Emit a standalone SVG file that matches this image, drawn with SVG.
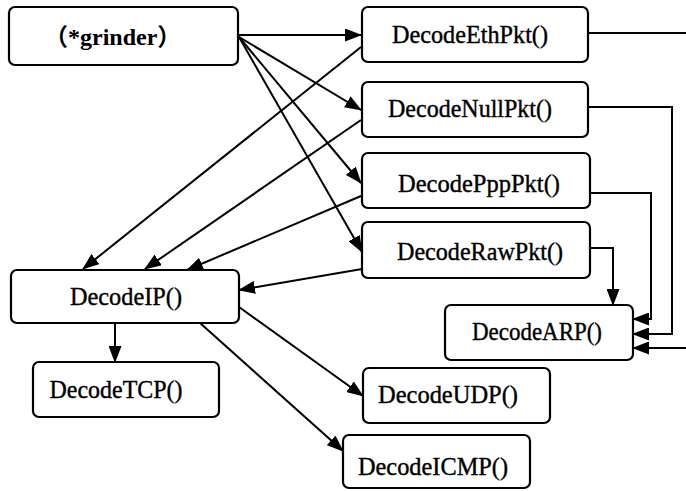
<svg xmlns="http://www.w3.org/2000/svg" width="686" height="491" viewBox="0 0 686 491">
  <style>
    .box { fill: #fff; stroke: #000; stroke-width: 2.2; }
    .lbl { font-family: "Liberation Serif", "Times New Roman", serif; font-size: 26px; fill: #000; stroke: #000; stroke-width: 0.4; text-anchor: middle; }
    .lbl-b { font-family: "Liberation Serif", "Noto Sans CJK SC", serif; font-size: 24px; font-weight: bold; fill: #000; }
    .wire { fill: none; stroke: #000; stroke-width: 2; }
    .arr { marker-end: url(#ah); }
  </style>
  <defs>
    <marker id="ah" viewBox="0 0 17 13" refX="16" refY="6.5" markerWidth="17" markerHeight="13" markerUnits="userSpaceOnUse" orient="auto">
      <path d="M0,0 L17,6.5 L0,13 z" fill="#000"/>
    </marker>
  </defs>
  <rect width="686" height="491" fill="#fff"/>

  <!-- call edges -->
  <g id="connectors">
    <path class="wire arr" d="M238,35 L361,35"/>
    <path class="wire arr" d="M239,37 L361,110"/>
    <path class="wire arr" d="M239,37 L361,183"/>
    <path class="wire arr" d="M239,37 L362,252"/>
    <path class="wire arr" d="M361,47 L83,269"/>
    <path class="wire arr" d="M361,120 L145,269"/>
    <path class="wire arr" d="M361,196 L187,270"/>
    <path class="wire arr" d="M362,269 L239,290"/>
    <path class="wire arr" d="M115,323 L115,362"/>
    <path class="wire arr" d="M239,307 L363,396"/>
    <path class="wire arr" d="M200,323 L343,451"/>
    <path class="wire" d="M588,33 L686,33"/>
    <path class="wire arr" d="M686,348 L633,348"/>
    <path class="wire arr" d="M588,107 L672,107 L672,334 L633,334"/>
    <path class="wire arr" d="M590,193 L651,193 L651,319 L633,319"/>
    <path class="wire arr" d="M590,248 L613,248 L613,305"/>
  </g>

  <g id="grinder">
    <rect class="box" x="9" y="7" width="229" height="58" rx="6"/>
    <text class="lbl-b" x="44" y="45">（*grinder）</text>
  </g>
  <g id="DecodeEthPkt">
    <rect class="box" x="362" y="7" width="226" height="55" rx="6"/>
    <text class="lbl" x="470" y="43" textLength="156" lengthAdjust="spacingAndGlyphs">DecodeEthPkt()</text>
  </g>
  <g id="DecodeNullPkt">
    <rect class="box" x="362" y="82" width="226" height="55" rx="6"/>
    <text class="lbl" x="470" y="117" textLength="164" lengthAdjust="spacingAndGlyphs">DecodeNullPkt()</text>
  </g>
  <g id="DecodePppPkt">
    <rect class="box" x="362" y="153" width="228" height="55" rx="6"/>
    <text class="lbl" x="479" y="192" textLength="162" lengthAdjust="spacingAndGlyphs">DecodePppPkt()</text>
  </g>
  <g id="DecodeRawPkt">
    <rect class="box" x="362" y="222" width="228" height="56" rx="6"/>
    <text class="lbl" x="480" y="260" textLength="166" lengthAdjust="spacingAndGlyphs">DecodeRawPkt()</text>
  </g>
  <g id="DecodeIP">
    <rect class="box" x="11" y="270" width="228" height="53" rx="6"/>
    <text class="lbl" x="126" y="305" textLength="112" lengthAdjust="spacingAndGlyphs">DecodeIP()</text>
  </g>
  <g id="DecodeTCP">
    <rect class="box" x="33" y="362" width="186" height="55" rx="6"/>
    <text class="lbl" x="116" y="398" textLength="133" lengthAdjust="spacingAndGlyphs">DecodeTCP()</text>
  </g>
  <g id="DecodeARP">
    <rect class="box" x="445" y="305" width="188" height="55" rx="6"/>
    <text class="lbl" x="537" y="340" textLength="130" lengthAdjust="spacingAndGlyphs">DecodeARP()</text>
  </g>
  <g id="DecodeUDP">
    <rect class="box" x="363" y="368" width="187" height="55" rx="6"/>
    <text class="lbl" x="448" y="403" textLength="140" lengthAdjust="spacingAndGlyphs">DecodeUDP()</text>
  </g>
  <g id="DecodeICMP">
    <rect class="box" x="343" y="435" width="187" height="53" rx="6"/>
    <text class="lbl" x="433" y="475" textLength="150" lengthAdjust="spacingAndGlyphs">DecodeICMP()</text>
  </g>
</svg>
